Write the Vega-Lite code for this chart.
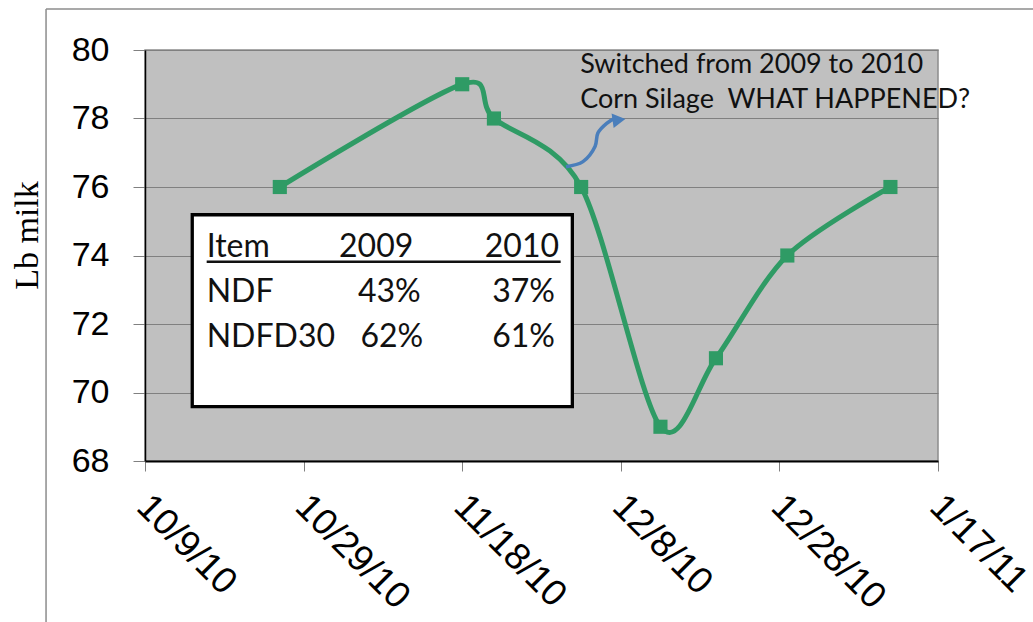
{
  "$schema": "https://vega.github.io/schema/vega-lite/v6.json",
  "width": 793,
  "height": 411,
  "autosize": {"type": "none"},
  "padding": {"left": 145, "top": 50, "right": 95, "bottom": 161},
  "background": "white",
  "config": {"view": {"fill": "#C0C0C0", "stroke": "#8C8C8C", "strokeWidth": 1.5}},
  "datasets": {
    "milk": [
      {"date": "2010-10-26T00:00:00", "value": 76},
      {"date": "2010-11-18T00:00:00", "value": 79},
      {"date": "2010-11-22T00:00:00", "value": 78},
      {"date": "2010-12-03T00:00:00", "value": 76},
      {"date": "2010-12-13T00:00:00", "value": 69},
      {"date": "2010-12-20T00:00:00", "value": 71},
      {"date": "2010-12-29T00:00:00", "value": 74},
      {"date": "2011-01-11T00:00:00", "value": 76}
    ],
    "frameV": [
      {"date": "2010-09-26T12:30:00", "value": 81.2, "value2": 60}
    ],
    "frameH": [
      {"date": "2010-09-26T12:30:00", "date2": "2011-03-01T00:00:00", "value": 81.2}
    ],
    "box": [
      {"date": "2010-10-14T23:00:00", "date2": "2010-12-01T21:20:00", "value": 75.19, "value2": 69.59}
    ],
    "tableLeft": [
      {"date": "2010-10-16T18:40:00", "value": 73.96, "label": "Item"},
      {"date": "2010-10-16T18:40:00", "value": 72.65, "label": "NDF"},
      {"date": "2010-10-16T18:40:00", "value": 71.34, "label": "NDFD30"}
    ],
    "tableRight": [
      {"date": "2010-11-11T20:00:00", "value": 73.96, "label": "2009"},
      {"date": "2010-11-12T18:30:00", "value": 72.65, "label": "43%"},
      {"date": "2010-11-13T02:10:00", "value": 71.34, "label": "62%"},
      {"date": "2010-11-30T05:00:00", "value": 73.96, "label": "2010"},
      {"date": "2010-11-29T16:50:00", "value": 72.65, "label": "37%"},
      {"date": "2010-11-29T16:50:00", "value": 71.34, "label": "61%"}
    ],
    "underline": [
      {"date": "2010-10-16T18:40:00", "date2": "2010-11-30T10:00:00", "value": 73.82}
    ],
    "arrow": [
      {"date": "2010-12-01T02:10:00", "value": 76.59},
      {"date": "2010-12-03T05:30:00", "value": 76.74},
      {"date": "2010-12-04T18:00:00", "value": 77.18},
      {"date": "2010-12-05T02:50:00", "value": 77.58},
      {"date": "2010-12-06T05:17:00", "value": 77.86},
      {"date": "2010-12-07T06:29:00", "value": 78.01}
    ],
    "arrowHead": [
      {"date": "2010-12-07T18:29:00", "value": 77.96}
    ],
    "note": [
      {"date": "2010-12-02T21:00:00", "value": 79.34, "label": "Switched from 2009 to 2010"},
      {"date": "2010-12-02T21:00:00", "value": 78.30, "label": "Corn Silage\u00a0 WHAT HAPPENED?"}
    ]
  },
  "layer": [
    {
      "data": {"name": "milk"},
      "mark": {"type": "line", "interpolate": "cardinal", "tension": 0.1, "color": "#2F9B65", "strokeWidth": 5},
      "encoding": {
        "x": {
          "field": "date", "type": "temporal",
          "scale": {"type": "time", "domain": [{"year": 2010, "month": 10, "date": 9}, {"year": 2011, "month": 1, "date": 17}], "nice": false},
          "axis": {
            "title": null,
            "values": [
              {"year": 2010, "month": 10, "date": 9},
              {"year": 2010, "month": 10, "date": 29},
              {"year": 2010, "month": 11, "date": 18},
              {"year": 2010, "month": 12, "date": 8},
              {"year": 2010, "month": 12, "date": 28},
              {"year": 2011, "month": 1, "date": 17}
            ],
            "format": "%-m/%-d/%y",
            "labelAngle": 45,
            "labelAlign": "left",
            "labelBaseline": "top",
            "labelFont": "Liberation Sans",
            "labelFontSize": 37,
            "labelColor": "#000000",
            "labelPadding": 17,
            "labelOffset": 10,
            "labelOverlap": false,
            "labelBound": false,
            "labelFlush": false,
            "tickSize": 10,
            "tickColor": "#808080",
            "tickWidth": 1,
            "domainColor": "#000000",
            "domainWidth": 2,
            "grid": false
          }
        },
        "y": {
          "field": "value", "type": "quantitative",
          "scale": {"domain": [68, 80], "nice": false, "zero": false},
          "axis": {
            "title": "Lb milk",
            "titleFont": "Liberation Serif",
            "titleFontSize": 34,
            "titleFontWeight": "normal",
            "titleColor": "#000000",
            "titleAngle": -90,
            "titleAlign": "center",
            "titleBaseline": "alphabetic",
            "titleX": -108,
            "titleY": 185,
            "values": [68, 70, 72, 74, 76, 78, 80],
            "labelFont": "Liberation Sans",
            "labelFontSize": 34,
            "labelColor": "#000000",
            "labelPadding": 24,
            "labelFlush": false,
            "labelBound": false,
            "tickSize": 12,
            "tickColor": "#808080",
            "domainColor": "#000000",
            "domainWidth": 1.5,
            "grid": true,
            "gridColor": "#808080",
            "gridWidth": 1
          }
        }
      }
    },
    {
      "data": {"name": "milk"},
      "mark": {"type": "point", "shape": "square", "filled": true, "size": 200, "color": "#2F9B65", "opacity": 1},
      "encoding": {
        "x": {"field": "date", "type": "temporal"},
        "y": {"field": "value", "type": "quantitative"}
      }
    },
    {
      "data": {"name": "frameV"},
      "mark": {"type": "rule", "color": "#8C8C8C", "strokeWidth": 1.5},
      "encoding": {
        "x": {"field": "date", "type": "temporal"},
        "y": {"field": "value", "type": "quantitative"},
        "y2": {"field": "value2"}
      }
    },
    {
      "data": {"name": "frameH"},
      "mark": {"type": "rule", "color": "#8C8C8C", "strokeWidth": 1.5},
      "encoding": {
        "x": {"field": "date", "type": "temporal"},
        "x2": {"field": "date2"},
        "y": {"field": "value", "type": "quantitative"}
      }
    },
    {
      "data": {"name": "box"},
      "mark": {"type": "rect", "fill": "#FFFFFF", "stroke": "#000000", "strokeWidth": 3.3},
      "encoding": {
        "x": {"field": "date", "type": "temporal"},
        "x2": {"field": "date2"},
        "y": {"field": "value", "type": "quantitative"},
        "y2": {"field": "value2"}
      }
    },
    {
      "data": {"name": "tableLeft"},
      "mark": {"type": "text", "align": "left", "baseline": "alphabetic", "font": "Lato", "fontSize": 32, "color": "#111111"},
      "encoding": {
        "x": {"field": "date", "type": "temporal"},
        "y": {"field": "value", "type": "quantitative"},
        "text": {"field": "label"}
      }
    },
    {
      "data": {"name": "tableRight"},
      "mark": {"type": "text", "align": "right", "baseline": "alphabetic", "font": "Lato", "fontSize": 32, "color": "#111111"},
      "encoding": {
        "x": {"field": "date", "type": "temporal"},
        "y": {"field": "value", "type": "quantitative"},
        "text": {"field": "label"}
      }
    },
    {
      "data": {"name": "underline"},
      "mark": {"type": "rule", "color": "#111111", "strokeWidth": 2.5},
      "encoding": {
        "x": {"field": "date", "type": "temporal"},
        "x2": {"field": "date2"},
        "y": {"field": "value", "type": "quantitative"}
      }
    },
    {
      "data": {"name": "arrow"},
      "mark": {"type": "line", "interpolate": "catmull-rom", "color": "#4A7EBB", "strokeWidth": 3.5},
      "encoding": {
        "x": {"field": "date", "type": "temporal"},
        "y": {"field": "value", "type": "quantitative"}
      }
    },
    {
      "data": {"name": "arrowHead"},
      "mark": {"type": "point", "shape": "triangle-right", "filled": true, "size": 220, "angle": -8, "color": "#4A7EBB", "opacity": 1},
      "encoding": {
        "x": {"field": "date", "type": "temporal"},
        "y": {"field": "value", "type": "quantitative"}
      }
    },
    {
      "data": {"name": "note"},
      "mark": {"type": "text", "align": "left", "baseline": "alphabetic", "font": "Lato", "fontSize": 27, "color": "#111111"},
      "encoding": {
        "x": {"field": "date", "type": "temporal"},
        "y": {"field": "value", "type": "quantitative"},
        "text": {"field": "label"}
      }
    }
  ]
}
